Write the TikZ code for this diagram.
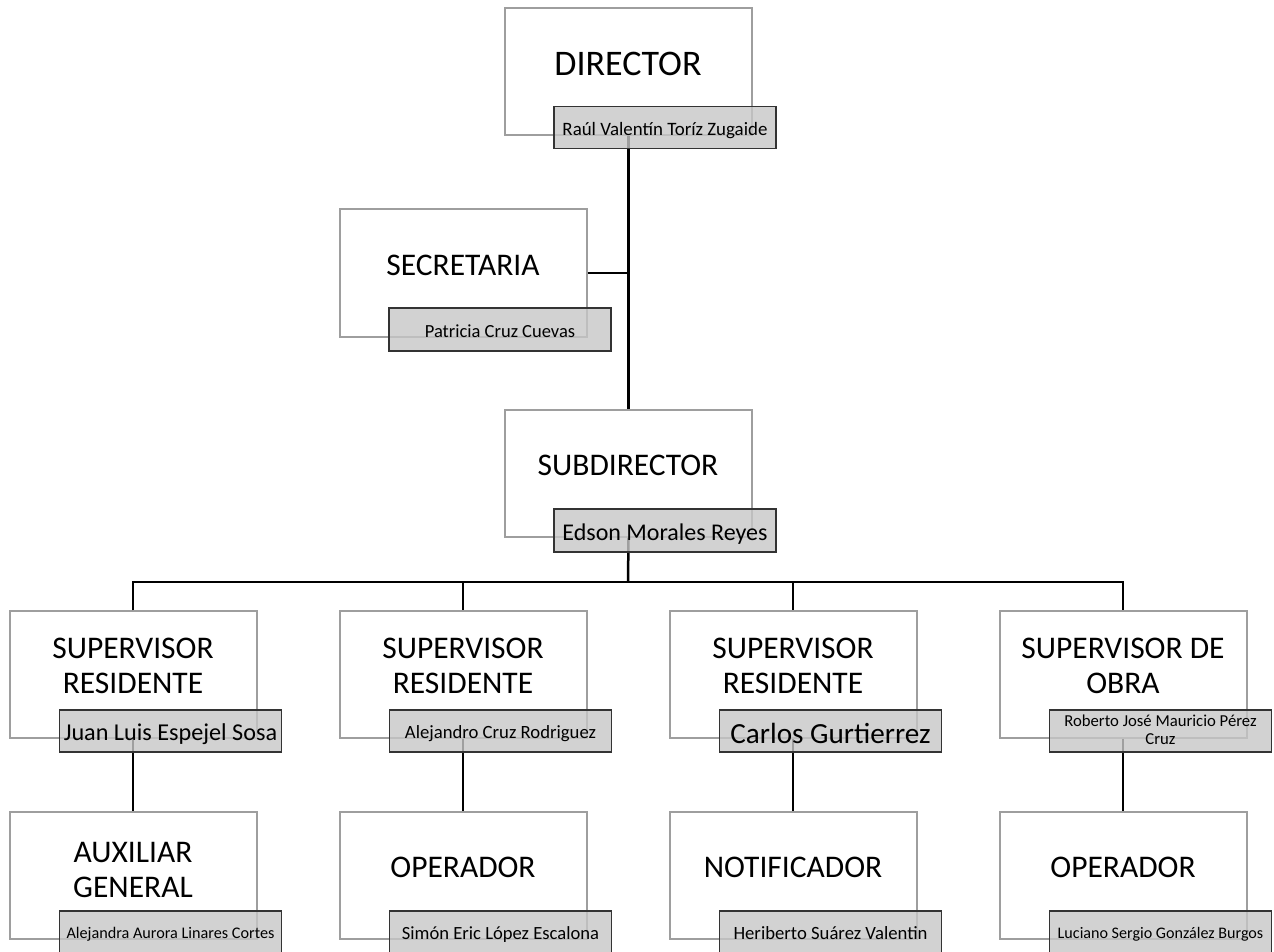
\documentclass[tikz,border=0pt]{standalone}
\usepackage{fontspec}
\setmainfont{Carlito}
\newcommand{\nst}{\rule[-0.22em]{0pt}{0.97em}}
\newcommand{\nsa}{\rule[-0.15em]{0pt}{1.13em}}
\begin{document}
\begin{tikzpicture}[x=1pt,y=-1pt,
  outer/.style={draw=black!38, line width=1.3pt, fill=white, minimum width=247pt, minimum height=127pt, inner sep=0pt},
  namebox/.style={draw=black!80, line width=1.3pt, fill=black!22, fill opacity=0.8, text opacity=1, minimum width=222pt, minimum height=42pt, inner sep=0pt, align=center, text=black},
  title/.style={font=\fontsize{31.5}{35}\selectfont, align=center, inner sep=0pt},
  conn/.style={line width=2.5pt, black}]
\useasboundingbox (0,0) rectangle (1274,951);
% outer boxes
\node[outer] (dir) at (628.5,71.5) {};
\node[outer, minimum height=128pt] (sec) at (463.5,273) {};
\node[outer] (sub) at (628.5,473.5) {};
\node[outer] (s1) at (133.5,674.5) {};
\node[outer] (s2) at (463.5,674.5) {};
\node[outer] (s3) at (793.5,674.5) {};
\node[outer] (s4) at (1123.5,674.5) {};
\node[outer] (b1) at (133.5,875.5) {};
\node[outer] (b2) at (463.5,875.5) {};
\node[outer] (b3) at (793.5,875.5) {};
\node[outer] (b4) at (1123.5,875.5) {};
% titles
\node[title, font=\fontsize{36}{40}\selectfont] (tdir) at (628,64) {DIRECTOR};
\node[title] (tsec) at (463,265) {SECRETARIA};
\node[title] (tsub) at (628,465) {SUBDIRECTOR};
\node[title] (ts1) at (133,666) {SUPERVISOR\\RESIDENTE};
\node[title] (ts2) at (463,666) {SUPERVISOR\\RESIDENTE};
\node[title] (ts3) at (793,666) {SUPERVISOR\\RESIDENTE};
\node[title] (ts4) at (1123,666) {SUPERVISOR DE\\OBRA};
\node[title] (tb1) at (133,870) {AUXILIAR\\GENERAL};
\node[title] (tb2) at (463,867) {OPERADOR};
\node[title] (tb3) at (793,867) {NOTIFICADOR};
\node[title] (tb4) at (1123,867) {OPERADOR};
% connectors
\coordinate (bus) at (628,582);
\draw[conn] (dir.south) -- (sub.north);
\draw[conn] (sec.east) -- (sec.east -| dir.south);
\draw[conn] (sub.south) -- (bus);
\draw[conn] (s1.north -| 133,0) |- (bus) -| (s4.north -| 1123,0);
\draw[conn] (bus -| 463,0) -- (s2.north -| 463,0);
\draw[conn] (bus -| 793,0) -- (s3.north -| 793,0);
\draw[conn] (s1.south -| 133,0) -- (b1.north -| 133,0);
\draw[conn] (s2.south -| 463,0) -- (b2.north -| 463,0);
\draw[conn] (s3.south -| 793,0) -- (b3.north -| 793,0);
\draw[conn] (s4.south -| 1123,0) -- (b4.north -| 1123,0);
% name boxes
\node[namebox, font=\fontsize{18.9}{20}\selectfont] (ndir) at (665,127.5) {\nsa Raúl Valentín Toríz Zugaide};
\node[namebox, minimum height=43pt, font=\fontsize{18.5}{20}\selectfont] (nsec) at (500,329.5) {\nsa Patricia Cruz Cuevas};
\node[namebox, minimum height=43pt, font=\fontsize{24}{26}\selectfont] (nsub) at (665,530.5) {\nsa Edson Morales Reyes};
\node[namebox, font=\fontsize{24.2}{26}\selectfont] (ns1) at (170.5,731) {\nsa Juan Luis Espejel Sosa};
\node[namebox, font=\fontsize{18.7}{20}\selectfont] (ns2) at (500.5,731) {\nsa Alejandro Cruz Rodriguez};
\node[namebox, font=\fontsize{29.2}{31}\selectfont] (ns3) at (830.5,731) {\nsa Carlos Gurtierrez};
\node[namebox, font=\fontsize{16.7}{17.5}\selectfont] (ns4) at (1160.5,731) {\nst Roberto José Mauricio Pérez\\\nst Cruz};
\node[namebox, font=\fontsize{16.2}{18}\selectfont] (nb1) at (170.5,932) {\nsa Alejandra Aurora Linares Cortes};
\node[namebox, font=\fontsize{18.6}{20}\selectfont] (nb2) at (500.5,932) {\nsa Simón Eric López Escalona};
\node[namebox, font=\fontsize{18.7}{20}\selectfont] (nb3) at (830.5,932) {\nsa Heriberto Suárez Valentin};
\node[namebox, font=\fontsize{16.1}{18}\selectfont] (nb4) at (1160.5,932) {\nsa Luciano Sergio González Burgos};
\end{tikzpicture}
\end{document}
